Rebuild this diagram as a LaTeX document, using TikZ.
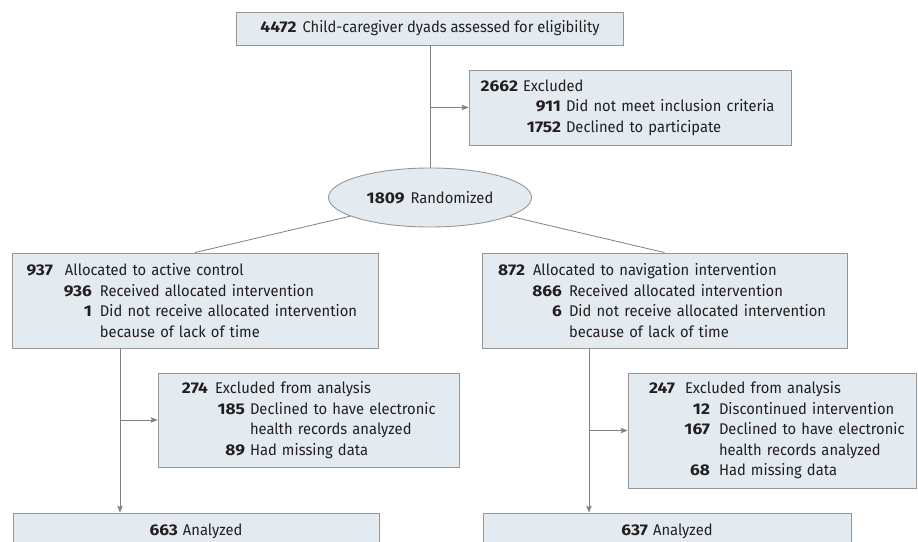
\documentclass[tikz,border=0pt]{standalone}
\usepackage{fontspec}
\setmainfont{Fira Sans}[FakeStretch=0.95,BoldFeatures={FakeStretch=1.12}]
\usetikzlibrary{arrows.meta,shapes.geometric}
\definecolor{boxfill}{RGB}{228,235,240}
\definecolor{boxline}{RGB}{150,150,150}
\definecolor{conn}{RGB}{128,128,128}
\definecolor{txt}{RGB}{35,31,32}
\newcommand\nbx[2]{\makebox[#1pt][r]{\bfseries #2}}
\tikzset{
  every node/.style={text=txt,font=\fontsize{15.5}{20.5}\selectfont},
  fbox/.style={draw=boxline,fill=boxfill,line width=0.9pt,rectangle,inner sep=0pt},
  lbox/.style={fbox,align=left,inner xsep=0pt},
  conline/.style={draw=conn,line width=0.8pt},
  conarrow/.style={conline,-{Stealth[length=7pt,width=5.5pt,inset=1.5pt]},fill=conn},
}
\begin{document}
\begin{tikzpicture}[x=1pt,y=-1pt]
\useasboundingbox (0,0) rectangle (918,541);
% top box
\node[fbox,minimum width=387pt,minimum height=33pt] (top) at (430,28.5)
  {\textbf{4472}\hspace{6pt}Child-caregiver dyads assessed for eligibility};
% excluded box
\node[lbox,minimum width=322pt,minimum height=75pt,text width=296pt] (excl) at (630,107.5)
  {\mbox{\nbx{36}{2662}\hspace{5pt}Excluded}\\
   \mbox{\nbx{79}{911}\hspace{5pt}Did not meet inclusion criteria}\\
   \mbox{\nbx{79}{1752}\hspace{5pt}Declined to participate}};
% randomized
\node[draw=boxline,fill=boxfill,line width=0.9pt,ellipse,inner sep=0pt,
      minimum width=203pt,minimum height=59pt] (rand) at (430,197.5)
  {\textbf{1809}\hspace{6pt}Randomized};
% allocation boxes
\node[lbox,minimum width=366pt,minimum height=95pt,text width=330pt] (alloc1) at (195,300.5)
  {\mbox{\nbx{23}{937}\hspace{12pt}Allocated to active control}\\
   \mbox{\nbx{62}{936}\hspace{8pt}Received allocated intervention}\\
   \mbox{\nbx{62}{1}\hspace{8pt}Did not receive allocated intervention}\\
   \mbox{\hspace*{70pt}because of lack of time}};
\node[lbox,minimum width=365pt,minimum height=95pt,text width=333pt] (alloc2) at (664.5,300.5)
  {\mbox{\nbx{27}{872}\hspace{8pt}Allocated to navigation intervention}\\
   \mbox{\nbx{64}{866}\hspace{7pt}Received allocated intervention}\\
   \mbox{\nbx{64}{6}\hspace{7pt}Did not receive allocated intervention}\\
   \mbox{\hspace*{71pt}because of lack of time}};
% exclusion from analysis
\node[lbox,minimum width=301pt,minimum height=94pt,text width=257pt] (ex1) at (308.5,420)
  {\mbox{\nbx{28}{274}\hspace{7pt}Excluded from analysis}\\
   \mbox{\nbx{65}{185}\hspace{5pt}Declined to have electronic}\\
   \mbox{\hspace*{70pt}health records analyzed}\\
   \mbox{\nbx{65}{89}\hspace{5pt}Had missing data}};
\node[lbox,minimum width=288pt,minimum height=115pt,text width=244pt] (ex2) at (772,430.5)
  {\mbox{\nbx{25}{247}\hspace{10pt}Excluded from analysis}\\
   \mbox{\nbx{60}{12}\hspace{9pt}Discontinued intervention}\\
   \mbox{\nbx{60}{167}\hspace{9pt}Declined to have electronic}\\
   \mbox{\hspace*{69pt}health records analyzed}\\
   \mbox{\nbx{60}{68}\hspace{9pt}Had missing data}};
% analyzed
\node[fbox,minimum width=366pt,minimum height=36pt] (an1) at (196,531)
  {\textbf{663}\hspace{5pt}Analyzed};
\node[fbox,minimum width=368pt,minimum height=36pt] (an2) at (667,531)
  {\textbf{637}\hspace{5pt}Analyzed};
% connectors
\coordinate (c1) at (120,0);
\coordinate (c2) at (589,0);
\draw[conline] (top.south) -- (rand.north);
\draw[conarrow] (top.south |- excl.west) -- (excl.west);
\draw[conline] (rand) -- (alloc1.north);
\draw[conline] (rand) -- (alloc2.north);
\draw[conarrow] (alloc1.south -| c1) -- (an1.north -| c1);
\draw[conarrow] (c1 |- ex1.west) -- (ex1.west);
\draw[conarrow] (alloc2.south -| c2) -- (an2.north -| c2);
\draw[conarrow] (c2 |- ex2.west) -- (ex2.west);
\end{tikzpicture}
\end{document}
